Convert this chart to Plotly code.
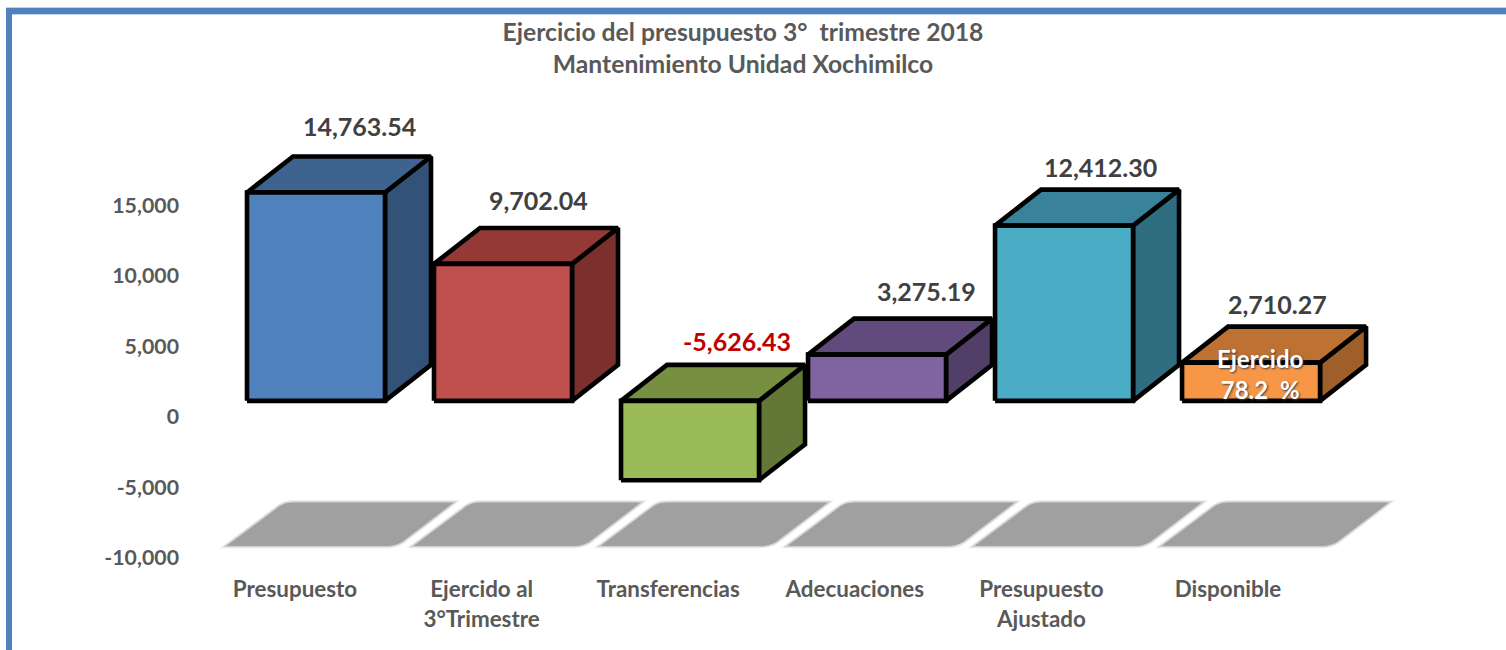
import plotly.graph_objects as go

categories = ["Presupuesto", "Ejercido al<br>3°Trimestre", "Transferencias", "Adecuaciones", "Presupuesto<br>Ajustado", "Disponible"]
values = [14763.54, 9702.04, -5626.43, 3275.19, 12412.30, 2710.27]
value_labels = ["14,763.54", "9,702.04", "-5,626.43", "3,275.19", "12,412.30", "2,710.27"]
y_ticks = [-10000, -5000, 0, 5000, 10000, 15000]
y_tick_labels = ["-10,000", "-5,000", "0", "5,000", "10,000", "15,000"]

# styles and layout constants
front_colors = ["#4f81bd", "#c0504d", "#9bbb59", "#8064a2", "#4bacc6", "#f79646"]
top_colors = ["#3e638f", "#943935", "#768f41", "#614b7c", "#38839a", "#bd7132"]
side_colors = ["#325278", "#7c302e", "#637837", "#523f68", "#2f6d80", "#9f5f2a"]
label_colors = ["#404040", "#404040", "#c00000", "#404040", "#404040", "#404040"]
label_dx = [20, 12, 24, 26, 13, 3]
label_dy = [30, 28, 24, 28, 23, 23]
W, H = 1506, 650
AX_L, AX_B = 186, 92
X0, DX = 295.0, 186.6            # pixel of category 0, pixels per category
PX_PER_UNIT = 0.01412            # pixels per y unit
Y0_PX = 417.0                    # pixel of y = 0
FRONT_LEFT = -48 / DX            # front-face left edge relative to the category
FRONT_W = 138 / DX
DEPTH_X = 46 / DX
DEPTH_Y = 36 / PX_PER_UNIT
FLOOR = 16 / PX_PER_UNIT         # the front plane sits above the axis zero


def x_left(i):
    return i + FRONT_LEFT + i * 0.0022


def paper_x(px):
    return (px - AX_L) / (W - AX_L)


def paper_y(px):
    return (H - AX_B - px) / (H - AX_B)


fig = go.Figure()


def face(xs, ys, fill):
    fig.add_trace(go.Scatter(x=xs + xs[:1], y=ys + ys[:1], mode="lines", fill="toself",
                             fillcolor=fill, line=dict(color="#000000", width=4.6),
                             hoverinfo="skip", showlegend=False))


# floor shadows
shapes = []
y_low = (Y0_PX - 546) / PX_PER_UNIT
y_high = (Y0_PX - 503) / PX_PER_UNIT
r = 8 / DX
rh = 4 / PX_PER_UNIT
for i in range(len(categories)):
    a = x_left(i) - 20 / DX
    b = a + 168 / DX
    sk = 58 / DX
    path = (f"M {a+r} {y_low} L {a} {y_low} L {a+sk-0.1*sk} {y_high-rh} "
            f"Q {a+sk} {y_high} {a+sk+r} {y_high} L {b+sk} {y_high} "
            f"L {b+0.12*sk} {y_low+rh} Q {b} {y_low} {b-r} {y_low} Z")
    for width, alpha in ((5, 0.18), (3, 0.4)):
        shapes.append(dict(type="path", path=path, xref="x", yref="y", layer="below",
                           fillcolor="#a0a0a0", line=dict(color=f"rgba(160,160,160,{alpha})", width=width)))

for i, v in enumerate(values):
    x1 = x_left(i)
    x2 = x1 + FRONT_W
    base = FLOOR
    end = FLOOR + v
    upper = max(base, end)
    lower = min(base, end)
    # side, top, front
    face([x2, x2 + DEPTH_X, x2 + DEPTH_X, x2], [lower, lower + DEPTH_Y, upper + DEPTH_Y, upper], side_colors[i])
    face([x1, x1 + DEPTH_X, x2 + DEPTH_X, x2], [upper, upper + DEPTH_Y, upper + DEPTH_Y, upper], top_colors[i])
    face([x1, x2, x2, x1], [lower, lower, upper, upper], front_colors[i])

annotations = []
for i, v in enumerate(values):
    upper = max(FLOOR, FLOOR + v) + DEPTH_Y
    annotations.append(dict(x=x_left(i) + FRONT_W / 2 + DEPTH_X / 2, y=upper, xref="x", yref="y",
                            text=value_labels[i], showarrow=False, xshift=label_dx[i], yshift=label_dy[i],
                            font=dict(family="Lato", size=25, color=label_colors[i], weight="bold")))
annotations.append(dict(x=x_left(5) + FRONT_W / 2 + 9 / DX, y=FLOOR + values[5], xref="x", yref="y",
                        text="Ejercido<br>78.2\u00a0\u00a0%", showarrow=False, yshift=-11,
                        font=dict(family="Lato", size=24, color="#ffffff", weight="bold",
                                  shadow="1px 1px 2px #404040")))

# frame: a pale rim under a solid blue band along the top and left edges
for color, width in (("#a9c3e3", 7.5), ("#4f81bd", 6)):
    shapes.append(dict(type="line", xref="paper", yref="paper", x0=paper_x(6), x1=1.0,
                       y0=paper_y(11), y1=paper_y(11), line=dict(color=color, width=width)))
shapes.append(dict(type="line", xref="paper", yref="paper", x0=paper_x(9), x1=paper_x(9),
                   y0=paper_y(H), y1=paper_y(8), line=dict(color="#4f81bd", width=6)))

fig.update_layout(
    width=W, height=H,
    margin=dict(l=AX_L, r=0, t=0, b=AX_B),
    paper_bgcolor="#ffffff", plot_bgcolor="#ffffff",
    showlegend=False,
    shapes=shapes, annotations=annotations,
    title=dict(text="Ejercicio del presupuesto 3°\u00a0\u00a0trimestre 2018<br>Mantenimiento Unidad Xochimilco",
               x=743 / W, xanchor="center", y=1 - 41 / H, yanchor="top",
               font=dict(family="Lato", size=24.7, color="#595959", weight="bold")),
    xaxis=dict(range=[(AX_L - X0) / DX, (W - X0) / DX], tickmode="array",
               tickvals=list(range(len(categories))), ticktext=categories,
               showgrid=False, zeroline=False, showline=False, ticks="", ticklabelstandoff=16,
               tickangle=0, fixedrange=True,
               tickfont=dict(family="Lato", size=22.4, color="#595959", weight="bold")),
    yaxis=dict(range=[-10000, Y0_PX / PX_PER_UNIT], tickmode="array",
               tickvals=y_ticks, ticktext=y_tick_labels,
               showgrid=False, zeroline=False, showline=False, ticks="", ticklabelstandoff=6,
               fixedrange=True,
               tickfont=dict(family="Lato", size=21.3, color="#595959", weight="bold")),
)

fig.write_html("out.html", config={"displayModeBar": False},
               post_script="document.body.style.margin='0';")
